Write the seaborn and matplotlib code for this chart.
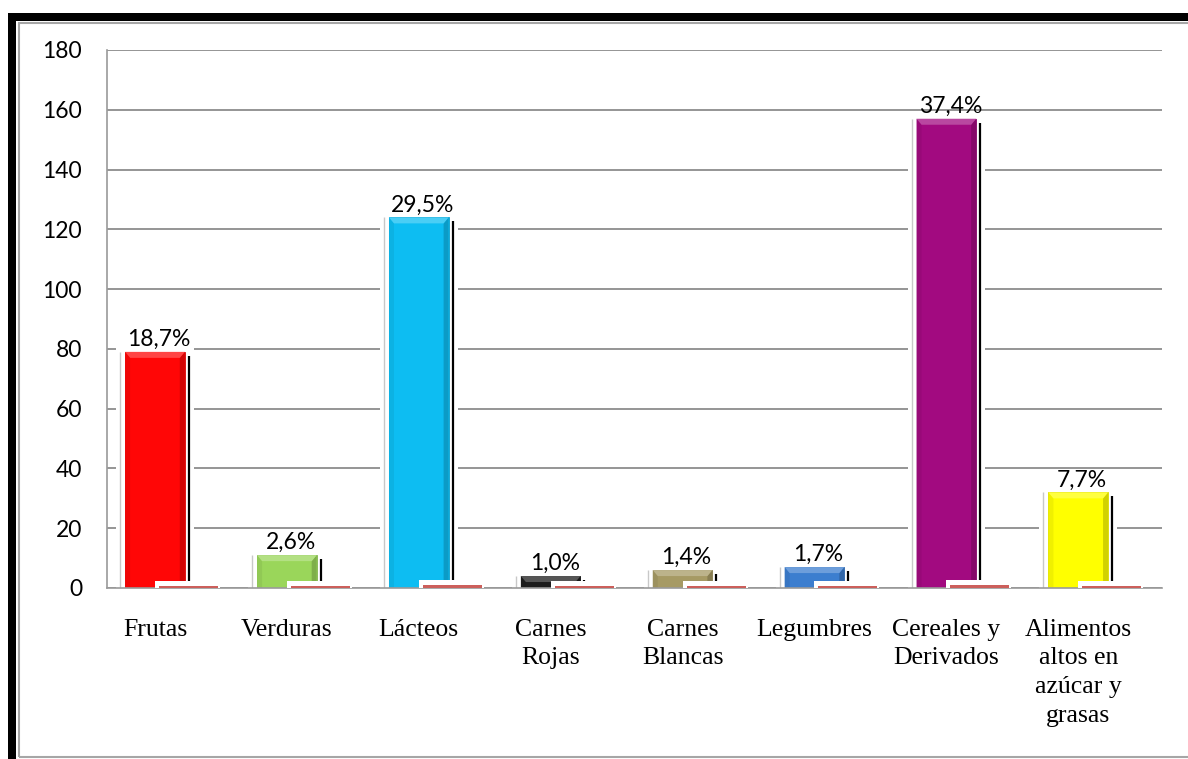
import matplotlib
matplotlib.use("Agg")
import matplotlib.pyplot as plt
from matplotlib.patches import Rectangle, Polygon
from matplotlib import colors as mcolors
import numpy as np
import pandas as pd
import seaborn as sns

# ---- data -------------------------------------------------------------
categorias = ["Frutas", "Verduras", "Lácteos", "Carnes\nRojas", "Carnes\nBlancas",
              "Legumbres", "Cereales y\nDerivados",
              "Alimentos\naltos en\nazúcar y\ngrasas"]
consumo = [79, 11, 124, 4, 6, 7, 157, 32]
porcentaje = [18.7, 2.6, 29.5, 1.0, 1.4, 1.7, 37.4, 7.7]
serie_2 = [0.8, 0.7, 1.0, 0.7, 0.7, 0.7, 1.1, 0.8]
colores = ["#FF0606", "#9AD65A", "#0DBDF2", "#1C1C1C", "#A69A64",
           "#3C7ECF", "#A20A80", "#FFFF00"]
color_serie_2 = "#CC5F5B"
y_ticks = [0, 20, 40, 60, 80, 100, 120, 140, 160, 180]

W, H = 1188, 759
sns.set_theme(style="white")
fig = plt.figure(figsize=(W / 100, H / 100), dpi=100)
fig.patch.set_facecolor("white")

# frame around the chart
fig.add_artist(Rectangle((8 / W, 1 - 21 / H), 1 - 8 / W, 8 / H, transform=fig.transFigure,
                         facecolor="black", edgecolor="none"))
fig.add_artist(Rectangle((8 / W, 0), 8 / W, 1 - 13 / H, transform=fig.transFigure,
                         facecolor="black", edgecolor="none"))
fig.add_artist(Rectangle((19 / W, 2 / H), 1.2, 1 - 25 / H, transform=fig.transFigure,
                         facecolor="none", edgecolor="#A6A6A6", lw=1.5))

ax = fig.add_axes([107 / W, 1 - 588 / H, (1162 - 107) / W, (588 - 50) / H])
ax.set_facecolor("none")

df = pd.DataFrame({"categoria": categorias, "consumo": consumo, "serie2": serie_2})

sns.barplot(data=df, x="categoria", y="consumo", hue="categoria", palette=colores,
            legend=False, width=0.452, saturation=1, ax=ax)
principales = list(ax.patches)

# second (tiny) series, overlapping the main bars
n_antes = len(ax.patches)
sns.barplot(data=df, x="categoria", y="serie2", color=color_serie_2, width=0.447,
            saturation=1, ax=ax)
segunda = list(ax.patches)[n_antes:]

ax.set_xlim(-0.364, 7.635)
ax.set_ylim(0, 180)

# pixel size in data units
px = (7.635 + 0.364) / (1162 - 107)
py = 180 / (588 - 50)


def mezcla(c, otro, t):
    a = np.array(mcolors.to_rgb(c))
    b = np.array(mcolors.to_rgb(otro))
    return tuple(a * (1 - t) + b * t)


for p, c, pct in zip(principales, colores, porcentaje):
    x0, w, h = p.get_x(), p.get_width(), p.get_height()
    p.set_zorder(3)
    p.set_edgecolor(mezcla(c, "black", 0.15))
    p.set_linewidth(0.6)
    # soft white glow behind the bar
    ax.add_patch(Rectangle((x0 - 9 * px, 0), w + 18 * px, h + 6 * py,
                           facecolor="white", edgecolor="none", zorder=1.5))
    ax.vlines(x0 - 5 * px, 0, h, color="#C8C8C8", lw=1, zorder=1.6)
    ax.vlines(x0 + w + 4 * px, min(4 * py, h / 3), max(h - 4 * py, h * 2 / 3),
              color="black", lw=1.6, zorder=1.6)
    # bevel
    b = 5 * px
    bh = min(6 * py, h / 2)
    ax.add_patch(Polygon([(x0, 0), (x0, h), (x0 + b, h - bh), (x0 + b, 0)], closed=True,
                         facecolor=mezcla(c, "black", 0.06), edgecolor="none", zorder=3.1))
    ax.add_patch(Polygon([(x0 + w, 0), (x0 + w, h), (x0 + w - b, h - bh), (x0 + w - b, 0)],
                         closed=True, facecolor=mezcla(c, "black", 0.18), edgecolor="none",
                         zorder=3.1))
    ax.add_patch(Polygon([(x0, h), (x0 + w, h), (x0 + w - b, h - bh), (x0 + b, h - bh)],
                         closed=True, facecolor=mezcla(c, "white", 0.25), edgecolor="none",
                         zorder=3.2))
    ax.text(x0 + w / 2 + 4 * px, h + 2 * py, f"{pct:.1f}%".replace(".", ","),
            ha="center", va="bottom", fontsize=16.5, family="Lato", color="black", zorder=6)

for p in segunda:
    p.set_x(p.get_x() + 0.254)
    p.set_zorder(5)
    p.set_edgecolor("none")
    x0, w, h = p.get_x(), p.get_width(), p.get_height()
    ax.add_patch(Rectangle((x0 - 4 * px, 0), w + 6 * px, h + 5 * py,
                           facecolor="white", edgecolor="none", zorder=4.5))

ax.set_xlim(-0.364, 7.635)
ax.set_ylim(0, 180)

# axes styling
ax.set_axisbelow(True)
ax.yaxis.grid(True, color="#8C8C8C", lw=1.3)
ax.xaxis.grid(False)
for s in ("top", "right"):
    ax.spines[s].set_visible(False)
for s in ("left", "bottom"):
    ax.spines[s].set_color("#9A9A9A")
    ax.spines[s].set_linewidth(1.2)
    ax.spines[s].set_zorder(4)

ax.set_yticks(y_ticks)
ax.set_yticklabels([str(t) for t in y_ticks], family="Lato", fontsize=16.5, color="black")
ax.set_xticks(range(len(categorias)))
ax.set_xticklabels(categorias, family="Liberation Serif", fontsize=18.5, color="black",
                   linespacing=1.4)
ax.tick_params(axis="y", length=0, pad=18)
ax.tick_params(axis="x", length=0, pad=22)
ax.set_xlabel("")
ax.set_ylabel("")

fig.savefig("out.png", dpi=100, facecolor="white")
